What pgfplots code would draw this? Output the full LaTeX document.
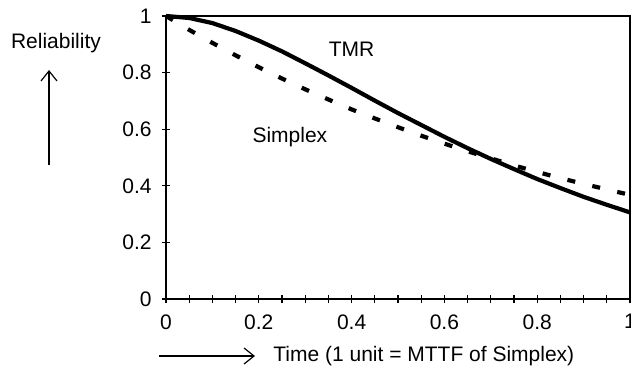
\documentclass[border=0pt]{standalone}
\usepackage{fontspec}
\setmainfont{Liberation Sans}
\usepackage{pgfplots}
\pgfplotsset{compat=1.18}
\usetikzlibrary{arrows.meta}

% Reliability of a triple-modular-redundant system vs. a simplex unit
\pgfplotstableread{
t     r
0     1.000
0.05  0.993
0.10  0.975
0.15  0.947
0.20  0.913
0.25  0.875
0.30  0.833
0.35  0.790
0.40  0.746
0.45  0.701
0.50  0.657
0.55  0.615
0.60  0.573
0.65  0.533
0.70  0.495
0.75  0.459
0.80  0.424
0.85  0.392
0.90  0.361
0.95  0.333
1.00  0.306
}\tmr

\pgfplotstableread{
t     r
0     1.000
0.05  0.951
0.10  0.905
0.15  0.861
0.20  0.819
0.25  0.779
0.30  0.741
0.35  0.705
0.40  0.670
0.45  0.638
0.50  0.607
0.55  0.577
0.60  0.549
0.65  0.522
0.70  0.497
0.75  0.472
0.80  0.449
0.85  0.427
0.90  0.407
0.95  0.387
1.00  0.368
}\simplex

\begin{document}
\fontsize{10.5}{12.6}\selectfont
\begin{tikzpicture}
\begin{axis}[
  scale only axis,
  width=232pt, height=141.5pt,
  xmin=0, xmax=1, ymin=0, ymax=1,
  xtick={0,0.2,...,1.0}, ytick={0,0.2,...,1.0},
  minor x tick num=3,
  tick pos=left,
  tick align=center,
  major tick length=4pt, minor tick length=4pt,
  every tick/.style={black, line width=0.6pt},
  axis line style={line width=0.9pt},
  /pgf/number format/assume math mode=true,
  ticklabel style={font=\fontsize{10.5}{12.6}\selectfont},
  xticklabel style={yshift=-2pt},
  yticklabel style={xshift=-1.5pt},
  clip=false,
]
\addplot[black, line width=2.1pt, line join=round] table[x=t, y=r] {\tmr};
\addplot[black, line width=2.1pt, dash pattern=on 4pt off 8.8pt] table[x=t, y=r] {\simplex};
\node at (axis cs:0.4,0.882) {TMR};
\node at (axis cs:0.267,0.572) {Simplex};
\end{axis}
% axis titles drawn as arrows beside the axes
\node at (-55pt,128pt) {Reliability};
\draw[line width=0.6pt, -{Straight Barb[length=5pt, width=8pt]}] (-58.5pt,67pt) -- (-58.5pt,114.5pt);
\draw[line width=0.6pt, -{Straight Barb[length=5pt, width=8pt]}] (-3.5pt,-28.5pt) -- (44.5pt,-28.5pt);
\node[anchor=west, inner sep=0pt] at (53.5pt,-28.5pt) {Time (1 unit = MTTF of Simplex)};
\pgfresetboundingbox
\path[use as bounding box] (-83pt,-36pt) rectangle (232.5pt,149.5pt);
\end{tikzpicture}
\end{document}
